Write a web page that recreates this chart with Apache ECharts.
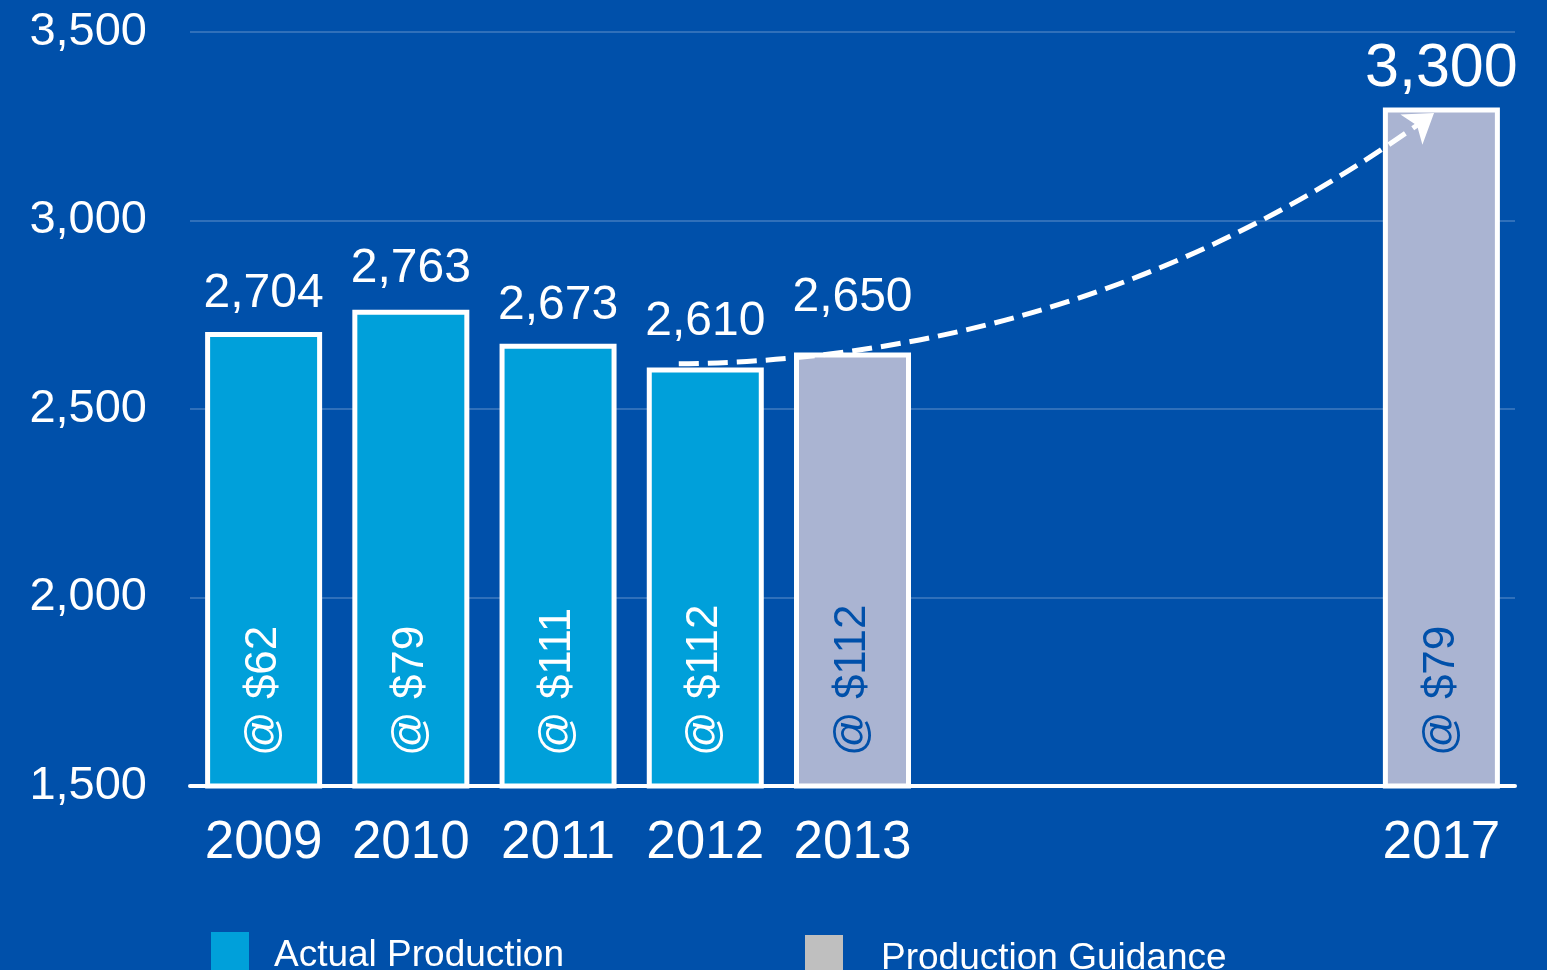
<!DOCTYPE html>
<html>
<head>
<meta charset="utf-8">
<script src="https://cdn.jsdelivr.net/npm/echarts@6/dist/echarts.min.js"></script>
<style>
  html, body { margin: 0; padding: 0; background: #0050AA; }
  #chart { width: 1547px; height: 970px; }
</style>
</head>
<body>
<div id="chart"></div>
<script>
// Production by year (thousand boe/d); 2014-2016 have no bar
const years = ['2009', '2010', '2011', '2012', '2013', '2014', '2015', '2016', '2017'];
const actualProduction = [2704, 2763, 2673, 2610, null, null, null, null, null];
const productionGuidance = [null, null, null, null, 2650, null, null, null, 3300];
// Brent price assumption written inside each bar
const oilPrice = ['@ $62', '@ $79', '@ $111', '@ $112', '@ $112', null, null, null, '@ $79'];
// Value axis range
const yMin = 1500, yMax = 3500, yStep = 500;
// Growth arrow from the 2012 result to the 2017 target (x as category index, y as value)
const trendArrow = [[2.82, 2620], [7.95, 3285]];

const FONT = "'Liberation Sans', Arial, sans-serif";
const BG = '#0050AA';
const ACTUAL = '#00A0DA';
const GUIDE = '#AAB4D2';

// Extra gap (px) above some value labels so they clear the arrow
const labelGap = [14, 17, 14, 22, 31, 14, 14, 14, 8];

const fmt = v => v.toLocaleString('en-US');

const actualData = actualProduction.map((v, i) =>
  v == null ? null : { value: v, label: { distance: labelGap[i] } });

const guidanceData = productionGuidance.map((v, i) => {
  if (v == null) return null;
  if (i === years.length - 1) {
    return { value: v, label: { fontSize: 61, distance: labelGap[i] } };
  }
  return { value: v, label: { distance: labelGap[i] } };
});

const priceData = years.map((_, i) => {
  const a = actualProduction[i], g = productionGuidance[i];
  const v = a != null ? a : g;
  if (v == null) return null;
  return { value: v, label: { color: a != null ? '#FFFFFF' : BG } };
});

const chart = echarts.init(document.getElementById('chart'), null, { renderer: 'canvas' });

chart.setOption({
  backgroundColor: BG,
  animation: false,
  textStyle: { fontFamily: FONT },
  grid: { left: 190, right: 32, top: 32, bottom: 184, containLabel: false },
  legend: [
    {
      left: 211, top: 932, padding: 0, icon: 'rect', itemWidth: 38, itemHeight: 48,
      selectedMode: false,
      data: [{ name: 'Actual Production', itemStyle: { color: ACTUAL, borderWidth: 0 } }],
      textStyle: { color: '#FFFFFF', fontSize: 37, fontFamily: FONT, padding: [0, 0, 0, 20] }
    },
    {
      left: 805, top: 935, padding: 0, icon: 'rect', itemWidth: 38, itemHeight: 48,
      selectedMode: false,
      data: [{ name: 'Production Guidance', itemStyle: { color: '#BFBFBF', borderWidth: 0 } }],
      textStyle: { color: '#FFFFFF', fontSize: 37, fontFamily: FONT, padding: [0, 0, 0, 33] }
    }
  ],
  xAxis: [
    {
      type: 'category',
      data: years,
      axisLine: { show: true, lineStyle: { color: '#FFFFFF', width: 4 } },
      axisTick: { show: false },
      axisLabel: {
        color: '#FFFFFF', fontSize: 53, fontFamily: FONT, margin: 31,
        interval: 0,
        formatter: (v, i) => (actualProduction[i] != null || productionGuidance[i] != null) ? v : ''
      },
      splitLine: { show: false }
    },
    {
      type: 'value', min: -0.5, max: years.length - 0.5, show: false
    }
  ],
  yAxis: {
    type: 'value',
    min: yMin, max: yMax, interval: yStep,
    axisLine: { show: false },
    axisTick: { show: false },
    axisLabel: {
      color: '#FFFFFF', fontSize: 47, fontFamily: FONT, margin: 43,
      formatter: v => fmt(v)
    },
    splitLine: { show: true, lineStyle: { color: '#3070BA', width: 2 } }
  },
  series: [
    {
      name: 'Actual Production',
      type: 'bar',
      data: actualData,
      barWidth: 117,
      barGap: '-100%',
      itemStyle: { color: ACTUAL, borderColor: '#FFFFFF', borderWidth: 5 },
      label: {
        show: true, position: 'top', distance: 14,
        color: '#FFFFFF', fontSize: 48, fontFamily: FONT,
        formatter: p => fmt(p.value)
      },
      z: 2
    },
    {
      name: 'Production Guidance',
      type: 'bar',
      data: guidanceData,
      barWidth: 117,
      barGap: '-100%',
      itemStyle: { color: GUIDE, borderColor: '#FFFFFF', borderWidth: 5 },
      label: {
        show: true, position: 'top', distance: 14,
        color: '#FFFFFF', fontSize: 48, fontFamily: FONT,
        formatter: p => fmt(p.value)
      },
      z: 2
    },
    {
      name: 'price',
      type: 'bar',
      data: priceData,
      barWidth: 117,
      barGap: '-100%',
      silent: true,
      itemStyle: { color: 'rgba(0,0,0,0)', borderWidth: 0 },
      label: {
        show: true, position: 'insideBottom', rotate: 90,
        align: 'left', verticalAlign: 'middle', distance: 30,
        fontSize: 44, fontFamily: FONT,
        formatter: p => oilPrice[p.dataIndex]
      },
      z: 3
    },
    {
      type: 'lines',
      coordinateSystem: 'cartesian2d',
      xAxisIndex: 1,
      yAxisIndex: 0,
      silent: true,
      z: 5,
      symbol: ['none', 'arrow'],
      symbolSize: 28,
      lineStyle: { color: '#FFFFFF', width: 5, type: [20, 9], curveness: -0.16, opacity: 1 },
      data: [{ coords: trendArrow }]
    }
  ]
});
</script>
</body>
</html>
